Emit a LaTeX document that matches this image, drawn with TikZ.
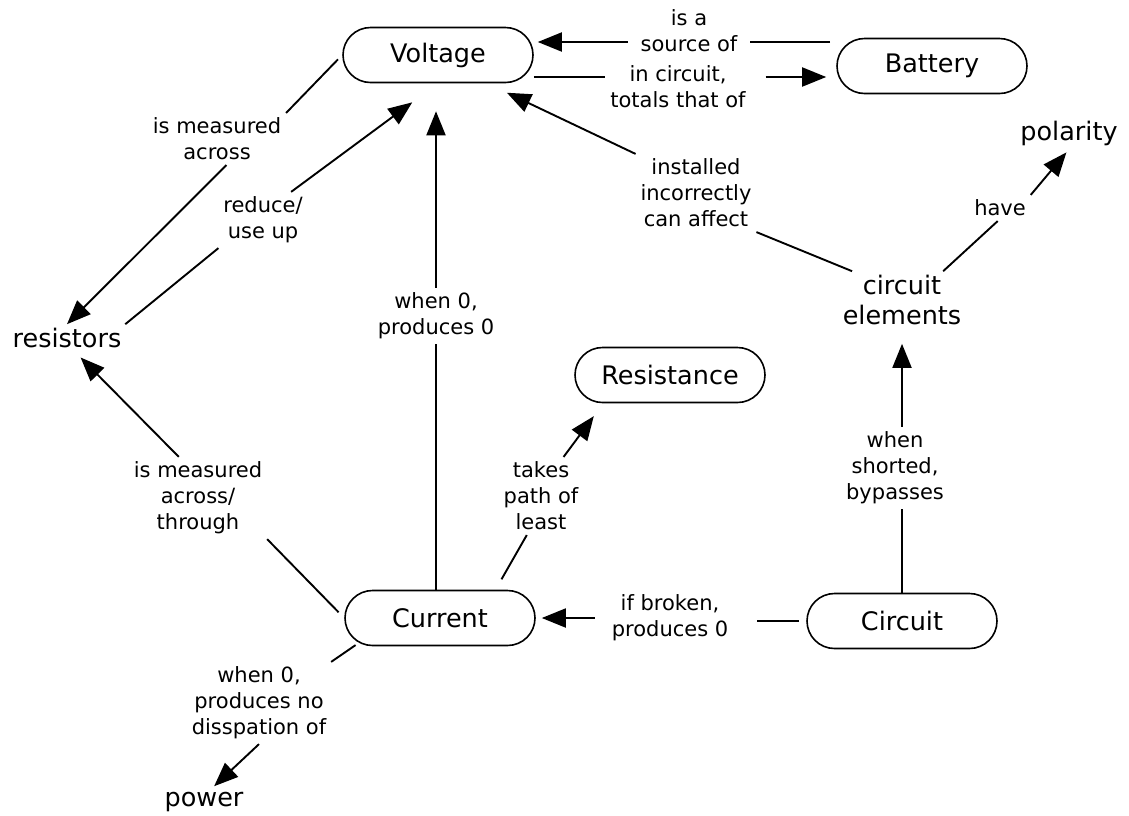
\documentclass[tikz,border=0pt]{standalone}
\usepackage{fontspec}
\setmainfont{DejaVu Sans}
\usepackage{tikz}
\usetikzlibrary{arrows.meta,shapes.misc,calc}
\tikzset{
  concept/.style={
    draw,
    shape=rounded rectangle,
    line width=1.6pt,
    minimum width=194pt,
    minimum height=55pt,
    inner sep=2pt,
    font=\fontsize{25.5}{31}\selectfont
  },
  plain concept/.style={
    align=center,
    inner sep=3pt,
    font=\fontsize{25.5}{30}\selectfont
  },
  linking/.style={
    align=center,
    inner sep=4pt,
    font=\fontsize{21}{26}\selectfont
  }
}

\begin{document}
\begin{tikzpicture}[%
            x=1pt,
            y=-1pt,
            line width=1.9pt,
            lnk/.style={-},
            arr/.style={-{Triangle[length=24pt,width=19pt]}}]
    \useasboundingbox (0,0) rectangle (1129,815);
    \node[concept] (volt) at (438,55) {Voltage};
    \node[concept] (batt) at (932,66) {Battery};
    \node[concept] (resist) at (670,375) {Resistance};
    \node[concept] (curr) at (440,618) {Current};
    \node[concept] (circ) at (902,621) {Circuit};
    \node[plain concept] (resistors) at (67,338) {resistors};
    \node[plain concept] (polar) at (1069,133) {polarity};
    \node[plain concept] (celem) at (902,300) {circuit\\elements};
    \node[plain concept] (power) at (204,802) {power};

    \node[linking] (srcof) at (689,31) {is a\\source of};
    \node[linking] (totals) at (678,87) {in circuit,\\totals that of};
    \node[linking] (across) at (217,139) {is measured\\across};
    \node[linking] (reduce) at (263,220) {reduce/\\use up};
    \node[linking] (whenzero) at (436,316) {when 0,\\produces 0};
    \node[linking] (install) at (696,193) {installed\\incorrectly\\can affect};
    \node[linking] (have) at (1000,208) {have};
    \node[linking] (takes) at (541,496) {takes\\path of\\least};
    \node[linking] (shorted) at (895,468) {when\\shorted,\\bypasses};
    \node[linking] (through) at (198,498) {is measured\\across/\\through};
    \node[linking] (broken) at (670,618) {if broken,\\produces 0};
    \node[linking] (dissip) at (259,703) {when 0,\\produces no\\disspation of};

    \draw[lnk, shorten <=6pt, shorten >=8pt] (batt.west |- 0,42) -- (srcof.east |- 0,42);
    \draw[arr, shorten <=8pt, shorten >=4pt] (srcof.west |- 0,42) -- (volt.east |- 0,42);
    \draw[lnk] (volt.east |- 0,77) -- (totals.west |- 0,77);
    \draw[arr, shorten <=15pt, shorten >=10pt] (totals.east |- 0,77) -- (batt.west |- 0,77);
    \draw[lnk, shorten <=6pt] (volt.west) -- (across.north east);
    \draw[arr] (across.-70) -- (resistors.north);
    \draw[lnk] (resistors.north east) -- (reduce.south west);
    \draw[arr, shorten >=32pt] (reduce.45) -- (volt.south);
    \draw[lnk] (whenzero.south |- curr.north) -- (whenzero.south);
    \draw[arr, shorten >=28pt] (whenzero.north) -- (whenzero.north |- volt.south);
    \draw[lnk, shorten <=12pt] (curr.27) -- (takes.-110);
    \draw[arr, shorten >=16pt] (takes.60) -- (resist.203);
    \draw[lnk, shorten <=8pt] (curr.west) -- (through.south east);
    \draw[arr, shorten >=8pt] (through.115) -- (resistors.-60);
    \draw[lnk] (celem.150) -- (install.south east);
    \draw[arr, shorten >=22pt] (install.north west) -- (volt.-30);
    \draw[lnk] (celem.35) -- (have.-100);
    \draw[arr, shorten >=4pt] (have.north east) -- (polar.south);
    \draw[lnk] (circ.north) -- (circ.north |- shorted.south);
    \draw[arr, shorten >=15pt] (circ.north |- shorted.north) -- (circ.north |- celem.south);
    \draw[lnk, shorten <=7pt, shorten >=24pt] (circ.west) -- (broken.east |- circ.west);
    \draw[arr, shorten <=12pt, shorten >=6pt] (broken.west |- curr.east) -- (curr.east);
    \draw[lnk, shorten <=4pt] (curr.197) -- (dissip.north east);
    \draw[arr, shorten >=3pt] (dissip.south) -- (power.60);
\end{tikzpicture}
\end{document}
